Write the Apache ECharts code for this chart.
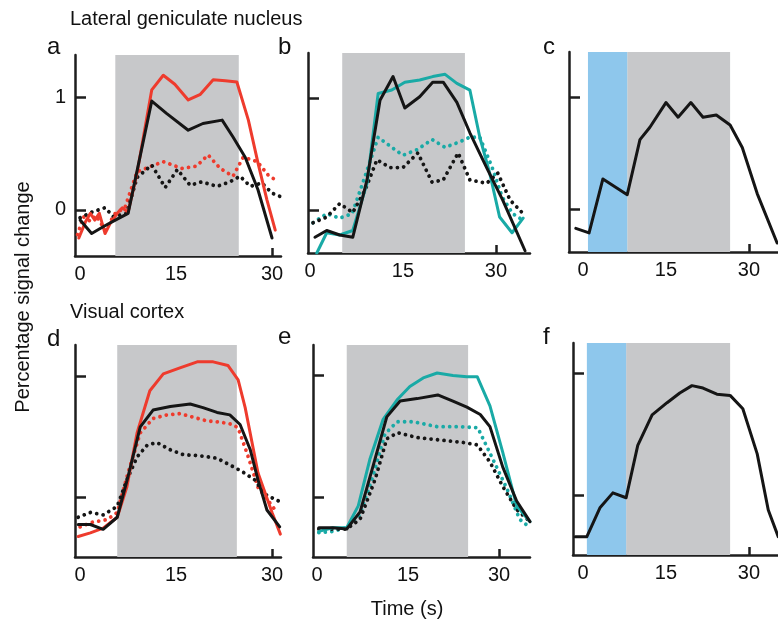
<!DOCTYPE html>
<html><head><meta charset="utf-8">
<script src="https://cdn.jsdelivr.net/npm/echarts@6/dist/echarts.min.js"></script>
<style>html,body{margin:0;padding:0;background:#fff}#c{width:778px;height:621px}</style>
</head><body><div id="c"></div>
<script>
// ---------- DATA (time in s, percentage signal change) ----------
const xTickLabels = [0, 15, 30];
const xTickMarks = [15, 30];
const yTickMarks = [0, 1];
const yTickLabels = [0, 1];

// Panel a (LGN)
const aRedSolid = [[-0.2,-0.25],[0.8,-0.11],[1.6,-0.03],[2.3,-0.09],[3.0,-0.03],[3.9,-0.21],[4.7,-0.12],[5.8,-0.03],[6.6,0.02],[7.5,-0.02],[8.9,0.33],[11.2,1.07],[13.0,1.20],[14.8,1.12],[16.9,0.98],[18.8,1.03],[20.8,1.16],[22.7,1.15],[24.5,1.14],[26.3,0.80],[27.8,0.42],[29.2,0.09],[30.5,-0.18]];
const aBlackSolid = [[0,-0.09],[1.8,-0.21],[3.6,-0.15],[5.5,-0.09],[7.5,-0.03],[11.2,0.97],[13.5,0.86],[16.9,0.71],[19.2,0.77],[22.2,0.80],[23.9,0.65],[25.8,0.47],[27.8,0.18],[30.0,-0.25]];
const aRedDotted = [[-0.4,-0.22],[0.5,-0.06],[1.6,-0.10],[2.5,-0.05],[3.9,-0.18],[5.5,-0.03],[7.0,0.02],[8.9,0.34],[10.7,0.38],[13.0,0.43],[15.9,0.37],[18.2,0.39],[20.0,0.49],[21.9,0.37],[23.9,0.30],[25.5,0.47],[27.7,0.43],[29.4,0.31],[31.0,0.25]];
const aBlackDotted = [[0,-0.07],[1.8,-0.02],[3.9,0.02],[5.2,-0.06],[7.3,-0.03],[8.9,0.29],[11.2,0.40],[13.3,0.20],[15.2,0.36],[17.2,0.22],[19.0,0.25],[21.4,0.21],[23.4,0.25],[25.0,0.30],[26.6,0.21],[28.4,0.24],[30.0,0.15],[31.3,0.12]];

// Panel b (LGN)
const bCyanSolid = [[1.1,-0.38],[2.7,-0.20],[4.8,-0.22],[6.9,-0.18],[9.2,0.24],[11.0,1.04],[13.2,1.07],[15.3,1.14],[17.7,1.16],[19.8,1.19],[21.8,1.21],[23.7,1.13],[25.8,1.07],[27.4,0.65],[29.0,0.33],[30.6,-0.06],[32.6,-0.20],[34.4,-0.07]];
const bBlackSolid = [[0.8,-0.24],[2.7,-0.18],[4.8,-0.22],[6.9,-0.24],[9.2,0.27],[11.3,0.98],[13.4,1.19],[15.3,0.91],[17.7,1.01],[19.8,1.14],[21.5,1.14],[23.7,0.96],[25.8,0.69],[28.5,0.38],[31.1,0.09],[34.7,-0.36]];
const bCyanDotted = [[0.5,-0.11],[2.7,-0.03],[4.8,-0.07],[6.8,-0.03],[8.5,0.24],[11.0,0.65],[13.2,0.56],[15.0,0.49],[17.3,0.54],[19.7,0.63],[21.8,0.56],[23.7,0.60],[25.8,0.65],[27.4,0.65],[29.4,0.38],[31.0,0.12],[32.7,-0.03],[34.4,-0.09]];
const bBlackDotted = [[0.5,-0.11],[2.7,-0.06],[4.8,0.06],[6.9,-0.02],[8.9,0.18],[10.8,0.45],[12.9,0.38],[15.0,0.38],[17.4,0.51],[19.7,0.25],[21.5,0.27],[23.9,0.51],[25.8,0.27],[28.5,0.24],[30.3,0.33],[32.3,0.09],[34.4,-0.03]];

// Panel c (LGN)
const cBlack = [[-1.3,-0.17],[1.1,-0.21],[3.6,0.27],[8.0,0.13],[10.3,0.62],[12.1,0.73],[15.0,0.95],[17.2,0.82],[19.5,0.95],[21.7,0.82],[24.1,0.84],[26.6,0.75],[28.8,0.55],[31.5,0.14],[35.1,-0.30]];

// Panel d (visual cortex)
const dRedSolid = [[-0.3,-0.33],[1.6,-0.30],[3.6,-0.26],[5.8,-0.17],[7.3,0.08],[8.9,0.53],[10.9,0.88],[13.0,1.02],[15.6,1.07],[18.3,1.12],[20.8,1.12],[23.1,1.09],[24.7,0.97],[25.8,0.74],[27.8,0.20],[30.0,-0.13],[31.3,-0.31]];
const dBlackSolid = [[-0.3,-0.23],[1.6,-0.23],[3.6,-0.27],[5.8,-0.17],[7.5,0.17],[9.4,0.58],[11.4,0.72],[14.1,0.75],[17.2,0.77],[19.2,0.74],[21.4,0.70],[23.4,0.68],[25.0,0.60],[26.6,0.39],[27.8,0.14],[29.2,-0.11],[31.2,-0.25]];
const dRedDotted = [[0,-0.25],[2.0,-0.21],[4.2,-0.19],[5.8,-0.13],[7.5,0.20],[9.4,0.53],[11.4,0.65],[13.6,0.68],[15.6,0.69],[17.7,0.66],[19.8,0.63],[21.9,0.62],[23.9,0.60],[24.7,0.57],[26.1,0.36],[27.8,0.08],[30.5,-0.11],[31.0,-0.13]];
const dBlackDotted = [[-0.3,-0.17],[1.6,-0.13],[3.6,-0.15],[5.8,-0.08],[7.3,0.14],[8.9,0.33],[10.5,0.43],[12.0,0.45],[14.1,0.39],[16.1,0.35],[18.8,0.34],[21.4,0.32],[23.9,0.25],[25.3,0.21],[27.3,0.14],[28.9,0.02],[31.2,-0.04]];

// Panel e (visual cortex)
const eCyanSolid = [[0.3,-0.28],[2.6,-0.25],[4.9,-0.25],[6.8,-0.07],[8.7,0.31],[10.9,0.64],[13.2,0.80],[15.3,0.91],[17.5,0.98],[19.8,1.02],[22.4,1.00],[24.7,0.99],[26.4,0.99],[28.5,0.75],[30.6,0.37],[32.9,-0.07],[35.1,-0.20]];
const eBlackSolid = [[0.3,-0.25],[2.6,-0.25],[4.9,-0.26],[7.1,-0.12],[9.2,0.25],[11.5,0.66],[13.7,0.79],[16.5,0.81],[19.9,0.84],[22.4,0.79],[24.7,0.74],[26.9,0.68],[28.5,0.58],[30.6,0.25],[32.9,-0.03],[35.1,-0.20]];
const eCyanDotted = [[0.3,-0.29],[2.6,-0.28],[4.9,-0.25],[7.1,-0.14],[9.2,0.17],[11.2,0.52],[13.2,0.62],[15.8,0.62],[19.8,0.58],[23.6,0.58],[26.5,0.57],[29.0,0.31],[31.3,0.07],[33.4,-0.18],[35.1,-0.25]];
const eBlackDotted = [[0.3,-0.26],[2.6,-0.26],[4.9,-0.26],[7.1,-0.18],[9.6,0.15],[11.5,0.48],[13.3,0.53],[16.5,0.49],[20.3,0.47],[24.1,0.45],[26.4,0.43],[28.5,0.29],[30.6,0.09],[32.9,-0.10],[35.1,-0.20]];

// Panel f (visual cortex)
const fBlack = [[-1.4,-0.34],[0.7,-0.34],[3.1,-0.10],[5.4,0.02],[7.8,-0.02],[9.9,0.41],[12.5,0.66],[15.2,0.76],[17.5,0.84],[19.7,0.90],[21.7,0.88],[24.2,0.83],[26.6,0.82],[28.9,0.71],[31.5,0.34],[33.5,-0.12],[35.3,-0.34]];

// Stimulus periods [start, end] in s
const stimA = [5.5, 24.8];
const stimB = [5.2, 25.0];
const stimC = [8.0, 26.6];
const cueC  = [0.9, 8.0];
const stimD = [5.8, 24.5];
const stimE = [4.9, 24.9];
const stimF = [7.8, 26.6];
const cueF  = [0.7, 7.8];

// ---------- LAYOUT / STYLE ----------
const FONT = '"Liberation Sans", Arial, sans-serif';
const RED = '#ee3b2d', CYAN = '#19aaa6', BLACK = '#151515', GRAY = '#c7c8ca', BLUE = '#8ec7ec', AXIS = '#1e1e1e';

const panels = [
  {left:75,  top:55,  width:206, height:201, xr:[-0.8,31.4], yr:[-0.41,1.38], yLabels:true,
   stim:stimA, cue:null, lines:[[aRedDotted,RED,true],[aBlackDotted,BLACK,true],[aRedSolid,RED,false],[aBlackSolid,BLACK,false]]},
  {left:308, top:53,  width:222, height:200, xr:[-0.32,35.5], yr:[-0.38,1.40], yLabels:false,
   stim:stimB, cue:null, lines:[[bCyanDotted,CYAN,true],[bBlackDotted,BLACK,true],[bCyanSolid,CYAN,false],[bBlackSolid,BLACK,false]]},
  {left:569, top:52,  width:209, height:200, xr:[-2.53,35.26], yr:[-0.38,1.40], yLabels:false,
   stim:stimC, cue:cueC, lines:[[cBlack,BLACK,false]]},
  {left:75,  top:345, width:206, height:212, xr:[-0.8,31.4], yr:[-0.50,1.26], yLabels:false,
   stim:stimD, cue:null, lines:[[dRedDotted,RED,true],[dBlackDotted,BLACK,true],[dRedSolid,RED,false],[dBlackSolid,BLACK,false]]},
  {left:313, top:345, width:217, height:212, xr:[-0.66,35.1], yr:[-0.49,1.25], yLabels:false,
   stim:stimE, cue:null, lines:[[eCyanDotted,CYAN,true],[eBlackDotted,BLACK,true],[eCyanSolid,CYAN,false],[eBlackSolid,BLACK,false]]},
  {left:573, top:343, width:205, height:212, xr:[-1.81,35.26], yr:[-0.49,1.25], yLabels:false,
   stim:stimF, cue:cueF, lines:[[fBlack,BLACK,false]]}
];

const grid = [], xAxis = [], yAxis = [], series = [];
panels.forEach((p, i) => {
  grid.push({left:p.left, top:p.top, width:p.width, height:p.height, show:false});
  xAxis.push({
    gridIndex:i, type:'value', min:p.xr[0], max:p.xr[1],
    axisLine:{show:true, onZero:false, lineStyle:{color:AXIS, width:2.5}},
    axisTick:{show:true, inside:true, length:8, customValues:xTickMarks, lineStyle:{color:AXIS, width:2.5}},
    axisLabel:{customValues:xTickLabels, fontSize:20, color:'#111', margin:8, fontFamily:FONT},
    splitLine:{show:false}
  });
  yAxis.push({
    gridIndex:i, type:'value', min:p.yr[0], max:p.yr[1],
    axisLine:{show:true, onZero:false, lineStyle:{color:AXIS, width:2.5}},
    axisTick:{show:true, inside:true, length:11, customValues:yTickMarks, lineStyle:{color:AXIS, width:2.5}},
    axisLabel:p.yLabels ? {customValues:yTickLabels, fontSize:20, color:'#111', margin:9, fontFamily:FONT} : {show:false},
    splitLine:{show:false}
  });
  const areas = [[{xAxis:p.stim[0], itemStyle:{color:GRAY}}, {xAxis:p.stim[1]}]];
  if (p.cue) areas.push([{xAxis:p.cue[0], itemStyle:{color:BLUE}}, {xAxis:p.cue[1]}]);
  series.push({type:'line', xAxisIndex:i, yAxisIndex:i, data:[], silent:true,
    markArea:{silent:true, itemStyle:{opacity:1}, data:areas}});
  p.lines.forEach(([d, col, dotted]) => {
    series.push({type:'line', xAxisIndex:i, yAxisIndex:i, data:d, symbol:'none', silent:true, z:3,
      lineStyle: dotted ? {color:col, width:3.8, type:[0.01, 6.5], cap:'round', join:'round'}
                        : {color:col, width:3, cap:'round', join:'round'}});
  });
});

const txt = (x, y, s, size) => ({type:'text', x, y, silent:true,
  style:{text:s, fontSize:size, fontFamily:FONT, fill:'#111', align:'left', verticalAlign:'middle'}});

const graphic = [
  txt(70, 19, 'Lateral geniculate nucleus', 20),
  txt(70, 312, 'Visual cortex', 20),
  txt(47, 47, 'a', 24), txt(278, 47, 'b', 24), txt(543, 47, 'c', 24),
  txt(47, 339, 'd', 24), txt(278, 337, 'e', 24), txt(543, 337, 'f', 24),
  {type:'text', x:23, y:297, rotation:Math.PI/2, silent:true,
   style:{text:'Percentage signal change', fontSize:20, fontFamily:FONT, fill:'#111', align:'center', verticalAlign:'middle'}},
  {type:'text', x:407, y:609, silent:true,
   style:{text:'Time (s)', fontSize:20, fontFamily:FONT, fill:'#111', align:'center', verticalAlign:'middle'}}
];

const chart = echarts.init(document.getElementById('c'), null, {renderer:'canvas'});
chart.setOption({animation:false, backgroundColor:'#ffffff', grid, xAxis, yAxis, series, graphic});
</script></body></html>
